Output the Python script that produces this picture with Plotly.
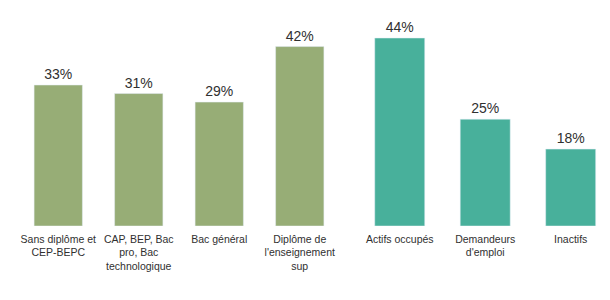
import plotly.graph_objects as go

diplome_labels = ["Sans diplôme et<br>CEP-BEPC", "CAP, BEP, Bac<br>pro, Bac<br>technologique",
                  "Bac général", "Diplôme de<br>l'enseignement<br>sup"]
diplome_values = [33, 31, 29, 42]
statut_labels = ["Actifs occupés", "Demandeurs<br>d'emploi", "Inactifs"]
statut_values = [44, 25, 18]

green = "#97AD76"
teal = "#48B09B"
txt = "#303030"

fig = go.Figure()
fig.add_trace(go.Bar(x=diplome_labels, y=diplome_values, marker_color=green, width=0.6,
                     text=[f"{v}%" for v in diplome_values], textposition="outside",
                     textfont=dict(size=14, color=txt), cliponaxis=False,
                     xaxis="x", yaxis="y"))
fig.add_trace(go.Bar(x=statut_labels, y=statut_values, marker_color=teal, width=0.585,
                     text=[f"{v}%" for v in statut_values], textposition="outside",
                     textfont=dict(size=14, color=txt), cliponaxis=False,
                     xaxis="x2", yaxis="y2"))

axis_common = dict(showgrid=False, zeroline=False, showline=False, ticks="",
                   ticklabelstandoff=5,
                   tickfont=dict(size=10.5, color=txt, family="Liberation Sans, Arial"))
fig.update_layout(
    width=610, height=300,
    margin=dict(l=0, r=0, t=0, b=74),
    paper_bgcolor="white", plot_bgcolor="white",
    showlegend=False,
    font=dict(family="Liberation Sans, Arial", color=txt),
    xaxis=dict(domain=[18/610, 340/610], range=[-0.5, 3.5], **axis_common),
    xaxis2=dict(domain=[357/610, 1.0], range=[-0.5, 2.46], anchor="y2", **axis_common),
    yaxis=dict(range=[0, 52.9], visible=False),
    yaxis2=dict(range=[0, 52.9], visible=False, anchor="x2"),
)
fig.write_html("out.html")
